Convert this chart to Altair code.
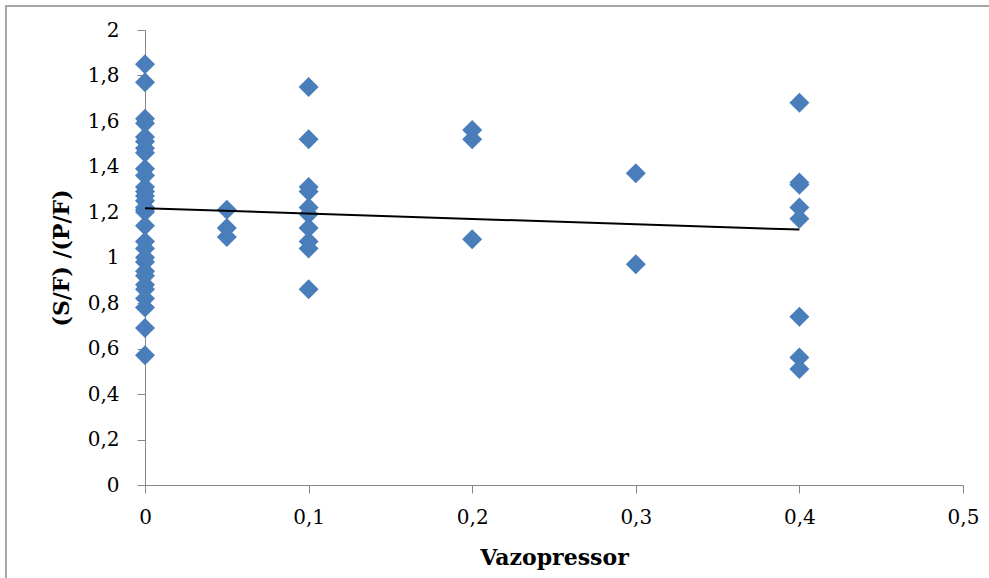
import altair as alt
import pandas as pd

# Vazopressor dose groups and (S/F)/(P/F) ratios
y_at_000 = [1.85, 1.77, 1.61, 1.59, 1.53, 1.51, 1.48, 1.46, 1.39, 1.36, 1.31,
            1.29, 1.27, 1.25, 1.22, 1.21, 1.20, 1.14, 1.07, 1.04, 1.00, 0.98, 0.94,
            0.92, 0.88, 0.86, 0.82, 0.78, 0.69, 0.57]
y_at_005 = [1.21, 1.13, 1.09]
y_at_010 = [1.75, 1.52, 1.31, 1.29, 1.22, 1.19, 1.13, 1.07, 1.04, 0.86]
y_at_020 = [1.56, 1.52, 1.08]
y_at_030 = [1.37, 0.97]
y_at_040 = [1.68, 1.33, 1.32, 1.22, 1.17, 0.74, 0.56, 0.51]

groups = [(0.0, y_at_000), (0.05, y_at_005), (0.1, y_at_010),
          (0.2, y_at_020), (0.3, y_at_030), (0.4, y_at_040)]
rows = [{"x": gx, "y": v} for gx, ys in groups for v in ys]
df = pd.DataFrame(rows)

x_ticks = [0, 0.1, 0.2, 0.3, 0.4, 0.5]
y_ticks = [0, 0.2, 0.4, 0.6, 0.8, 1.0, 1.2, 1.4, 1.6, 1.8, 2.0]

FONT = "DejaVu Serif"
AXC = "#868686"
label_expr = "replace(format(datum.value, '.1~f'), '.', ',')"

x_enc = alt.X("x:Q", scale=alt.Scale(domain=[0, 0.5], nice=False, zero=True),
              axis=alt.Axis(title="Vazopressor", values=x_ticks, labelExpr=label_expr,
                            grid=False, domainColor=AXC, tickColor=AXC, tickSize=8,
                            labelFont=FONT, labelFontSize=20, labelColor="#000",
                            labelPadding=14, titleFont=FONT, titleFontSize=22,
                            titleFontWeight="bold", titleColor="#000", titlePadding=20,
                            labelFlush=False))
y_enc = alt.Y("y:Q", scale=alt.Scale(domain=[0, 2], nice=False),
              axis=alt.Axis(title="(S/F) /(P/F)", values=y_ticks, labelExpr=label_expr,
                            grid=False, domainColor=AXC, tickColor=AXC, tickSize=8,
                            labelFont=FONT, labelFontSize=20, labelColor="#000",
                            labelPadding=18, titleFont=FONT, titleFontSize=22,
                            titleFontWeight="bold", titleColor="#000", titlePadding=14))

points = alt.Chart(df).mark_point(shape="diamond", filled=True, size=400,
                                  color="#4A7EBB", opacity=1).encode(x=x_enc, y=y_enc)

trend = alt.Chart(df).transform_regression("x", "y", extent=[0, 0.4]).mark_line(
    color="black", strokeWidth=2).encode(x="x:Q", y="y:Q")

border = alt.Chart(df).mark_rect(fill="transparent", stroke="#A6A6A6", strokeWidth=2).encode(
    x=alt.value(-139), x2=alt.value(870), y=alt.value(-24), y2=alt.value(600))

chart = alt.layer(points, trend, border).properties(
    width=818, height=455,
    autosize=alt.AutoSizeParams(type="none"),
    padding={"left": 145, "top": 30, "right": 26, "bottom": 93},
    background="white",
).configure_view(strokeWidth=0)

chart.save("out.html", embed_options={"renderer": "svg", "actions": False})
